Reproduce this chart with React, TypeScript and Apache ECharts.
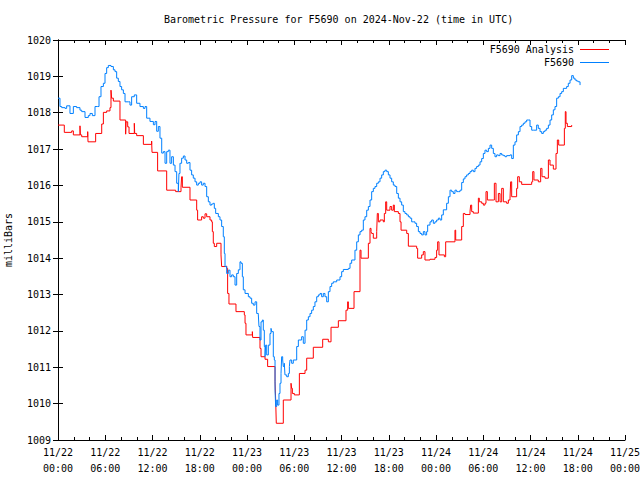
import React, { useEffect, useRef } from "react";
import * as echarts from "echarts";

const TITLE = "Barometric Pressure for F5690 on 2024-Nov-22 (time in UTC)";
const Y_NAME = "milliBars";
const xTickLabels = [
  "11/22\n00:00", "11/22\n06:00", "11/22\n12:00", "11/22\n18:00",
  "11/23\n00:00", "11/23\n06:00", "11/23\n12:00", "11/23\n18:00",
  "11/24\n00:00", "11/24\n06:00", "11/24\n12:00", "11/24\n18:00",
  "11/25\n00:00",
];
const seriesNames = ["F5690 Analysis", "F5690"];

// hours since 11/22 00:00 UTC
const analysisHours = [0.0, 0.80, 1.74, 1.95, 2.79, 2.84, 3.01, 3.77, 3.81, 4.78, 5.55, 5.76, 6.18, 6.60, 6.73, 6.81, 7.03, 7.87, 8.59, 8.64, 8.85, 9.02, 9.69, 9.74, 9.99, 10.84, 11.89, 11.94, 12.65, 13.80, 14.94, 15.62, 15.70, 15.79, 16.76, 17.61, 17.73, 18.24, 18.45, 18.67, 18.88, 19.30, 19.51, 19.60, 19.72, 19.85, 20.15, 20.70, 20.78, 21.21, 21.42, 21.54, 21.71, 22.60, 23.66, 23.75, 23.87, 24.68, 24.72, 25.65, 25.78, 26.29, 26.62, 27.56, 27.64, 27.72, 28.61, 29.59, 29.67, 29.76, 30.01, 30.65, 31.37, 31.58, 32.42, 33.61, 34.33, 34.67, 35.60, 36.57, 36.78, 36.87, 37.59, 38.35, 38.48, 39.41, 39.62, 39.75, 39.83, 40.04, 40.47, 40.55, 40.68, 40.89, 41.31, 41.44, 41.61, 41.74, 42.16, 42.37, 42.58, 42.71, 43.22, 43.43, 43.56, 44.28, 44.49, 45.54, 45.67, 46.18, 46.39, 46.60, 47.24, 47.87, 48.08, 48.21, 48.38, 49.06, 49.23, 50.41, 50.50, 51.26, 51.47, 51.68, 52.32, 52.40, 52.53, 52.74, 53.38, 53.50, 53.80, 54.01, 54.22, 54.35, 54.52, 55.28, 55.41, 55.62, 55.92, 56.13, 56.34, 56.55, 56.97, 57.19, 57.40, 57.48, 57.61, 58.24, 58.37, 58.58, 58.88, 60.15, 60.28, 60.44, 60.99, 61.29, 61.46, 61.84, 62.27, 62.48, 62.90, 63.24, 63.41, 63.58, 64.30, 64.42, 64.51, 64.68, 65.23];
const analysisValues = [1017.66, 1017.46, 1017.50, 1017.39, 1017.64, 1017.39, 1017.34, 1017.48, 1017.20, 1017.43, 1017.69, 1018.01, 1018.05, 1018.14, 1018.62, 1018.40, 1018.32, 1017.80, 1017.41, 1017.75, 1017.61, 1017.43, 1017.71, 1017.43, 1017.37, 1017.13, 1017.22, 1016.91, 1016.40, 1015.87, 1015.83, 1015.95, 1016.24, 1015.95, 1015.60, 1015.32, 1015.05, 1015.14, 1015.10, 1015.22, 1015.14, 1015.05, 1015.00, 1014.73, 1014.41, 1014.32, 1014.41, 1014.09, 1013.77, 1013.78, 1013.72, 1013.03, 1012.74, 1012.53, 1012.44, 1012.21, 1011.89, 1011.98, 1011.82, 1011.52, 1011.29, 1011.22, 1011.02, 1010.60, 1010.10, 1009.46, 1010.10, 1010.56, 1010.42, 1010.28, 1010.24, 1010.83, 1010.92, 1011.25, 1011.55, 1011.77, 1011.70, 1012.10, 1012.28, 1012.57, 1012.80, 1012.62, 1013.08, 1014.22, 1014.00, 1014.41, 1014.82, 1014.73, 1014.68, 1014.55, 1014.73, 1015.23, 1015.00, 1015.05, 1015.00, 1015.23, 1015.55, 1015.32, 1015.42, 1015.32, 1015.46, 1015.28, 1015.23, 1015.00, 1014.77, 1014.68, 1014.33, 1014.27, 1014.00, 1014.09, 1014.18, 1013.95, 1013.97, 1014.02, 1014.22, 1014.45, 1014.09, 1014.04, 1014.45, 1014.77, 1014.50, 1014.87, 1015.23, 1015.20, 1015.28, 1015.46, 1015.28, 1015.24, 1015.65, 1015.55, 1015.51, 1015.46, 1015.51, 1015.83, 1015.60, 1015.60, 1016.06, 1015.55, 1015.78, 1015.55, 1015.92, 1015.55, 1015.51, 1015.60, 1015.65, 1016.10, 1015.69, 1015.92, 1016.24, 1016.10, 1016.03, 1016.10, 1016.38, 1016.15, 1016.10, 1016.47, 1016.24, 1016.20, 1016.70, 1016.56, 1016.45, 1016.88, 1017.25, 1017.11, 1017.57, 1018.03, 1017.71, 1017.62, 1017.66];

const stationHours = [0.0, 0.25, 0.47, 0.89, 1.10, 1.52, 1.95, 2.37, 2.79, 3.01, 3.43, 3.85, 4.06, 4.36, 4.70, 5.04, 5.21, 5.46, 5.76, 5.97, 6.18, 6.39, 6.73, 7.03, 7.24, 7.45, 7.66, 7.87, 8.08, 8.30, 8.51, 8.93, 9.14, 9.35, 9.69, 9.99, 10.41, 10.84, 11.05, 11.26, 11.68, 12.11, 12.32, 12.53, 12.74, 12.95, 13.17, 13.38, 13.59, 13.80, 14.01, 14.22, 14.43, 14.65, 14.86, 15.07, 15.28, 15.36, 15.49, 15.70, 15.92, 16.13, 16.34, 16.55, 16.76, 16.97, 17.18, 17.40, 17.61, 17.82, 18.03, 18.24, 18.45, 18.67, 18.88, 19.09, 19.30, 19.51, 19.72, 19.85, 20.02, 20.36, 20.57, 20.78, 20.99, 21.12, 21.21, 21.42, 21.63, 21.84, 22.05, 22.26, 22.48, 22.69, 22.90, 23.11, 23.24, 23.41, 23.53, 23.75, 24.17, 24.38, 24.59, 24.80, 25.02, 25.23, 25.44, 25.52, 25.65, 25.78, 25.95, 26.07, 26.20, 26.29, 26.37, 26.50, 26.71, 26.92, 27.05, 27.13, 27.34, 27.47, 27.56, 27.64, 27.77, 27.89, 28.06, 28.19, 28.32, 28.40, 28.53, 28.61, 28.74, 28.82, 29.04, 29.25, 29.38, 29.46, 29.67, 29.88, 30.10, 30.31, 30.52, 30.73, 30.94, 31.15, 31.37, 31.58, 31.79, 32.00, 32.21, 32.42, 32.63, 32.85, 33.06, 33.27, 33.48, 33.69, 33.90, 34.12, 34.33, 34.54, 34.75, 34.96, 35.17, 35.39, 35.81, 36.02, 36.23, 36.87, 37.08, 37.29, 37.71, 37.93, 38.14, 38.35, 38.56, 38.77, 38.98, 39.20, 39.41, 39.62, 39.83, 40.04, 40.25, 40.47, 40.68, 40.89, 41.10, 41.31, 41.52, 41.74, 41.95, 42.16, 42.37, 42.58, 42.79, 43.01, 43.22, 43.43, 43.64, 43.85, 44.06, 44.28, 44.49, 44.70, 44.91, 45.12, 45.33, 45.54, 45.76, 45.97, 46.18, 46.39, 46.60, 46.81, 46.94, 47.24, 47.45, 47.66, 47.87, 48.08, 48.30, 48.51, 48.72, 48.93, 49.14, 49.35, 49.57, 49.78, 49.99, 50.20, 50.41, 50.62, 50.83, 51.05, 51.26, 51.47, 51.68, 51.89, 52.11, 52.32, 52.53, 52.74, 52.95, 53.16, 53.38, 53.59, 53.80, 54.01, 54.22, 54.43, 54.65, 54.86, 55.07, 55.28, 55.49, 55.70, 55.92, 56.13, 56.34, 56.55, 56.76, 56.97, 57.40, 57.61, 57.82, 58.03, 58.24, 58.46, 58.67, 58.88, 59.09, 59.30, 59.51, 59.73, 59.94, 60.15, 60.36, 60.57, 60.78, 60.99, 61.21, 61.42, 61.63, 61.84, 62.05, 62.27, 62.48, 62.69, 62.90, 63.11, 63.32, 63.54, 63.75, 63.96, 64.17, 64.38, 64.59, 64.80, 65.02, 65.23, 65.44, 65.65, 65.86, 66.07, 66.29];
const stationValues = [1018.40, 1018.17, 1018.14, 1018.12, 1018.19, 1017.98, 1018.17, 1018.14, 1018.07, 1018.03, 1017.87, 1017.92, 1017.98, 1017.92, 1018.17, 1018.17, 1018.44, 1018.72, 1018.81, 1019.08, 1019.24, 1019.30, 1019.27, 1019.18, 1019.13, 1018.95, 1018.86, 1018.72, 1018.63, 1018.53, 1018.30, 1018.30, 1018.21, 1018.44, 1018.49, 1018.26, 1018.17, 1018.12, 1018.17, 1017.85, 1017.76, 1017.67, 1017.76, 1017.49, 1017.62, 1017.30, 1016.89, 1016.93, 1016.61, 1016.93, 1016.97, 1016.61, 1016.79, 1016.56, 1016.38, 1016.06, 1015.83, 1016.33, 1016.61, 1016.75, 1016.81, 1016.70, 1016.61, 1016.63, 1016.42, 1016.29, 1016.20, 1016.10, 1016.01, 1016.06, 1016.10, 1016.01, 1016.06, 1015.97, 1015.69, 1015.55, 1015.46, 1015.49, 1015.51, 1015.37, 1015.23, 1015.14, 1015.05, 1014.87, 1014.59, 1014.13, 1013.77, 1013.58, 1013.67, 1013.49, 1013.54, 1013.49, 1013.26, 1013.58, 1013.68, 1013.90, 1013.86, 1013.49, 1013.13, 1013.03, 1012.94, 1012.90, 1012.76, 1012.71, 1012.80, 1012.48, 1012.44, 1012.12, 1011.75, 1012.25, 1012.30, 1012.02, 1011.57, 1011.29, 1011.61, 1011.34, 1011.61, 1011.93, 1012.07, 1011.98, 1011.29, 1011.20, 1010.37, 1009.92, 1010.10, 1009.96, 1010.28, 1010.56, 1010.83, 1011.29, 1011.20, 1011.02, 1011.11, 1010.79, 1010.74, 1010.83, 1011.02, 1011.20, 1011.11, 1011.20, 1011.20, 1011.57, 1011.75, 1011.75, 1011.84, 1011.66, 1012.02, 1012.30, 1012.39, 1012.48, 1012.57, 1012.67, 1012.80, 1012.94, 1012.99, 1013.03, 1012.94, 1013.03, 1012.94, 1012.80, 1013.08, 1013.22, 1013.31, 1013.35, 1013.35, 1013.40, 1013.49, 1013.63, 1013.69, 1013.72, 1013.86, 1013.95, 1014.22, 1014.45, 1014.64, 1014.73, 1014.77, 1015.05, 1015.14, 1015.32, 1015.42, 1015.60, 1015.83, 1015.92, 1015.97, 1016.06, 1016.10, 1016.20, 1016.29, 1016.38, 1016.42, 1016.38, 1016.29, 1016.20, 1016.10, 1016.01, 1015.97, 1015.78, 1015.65, 1015.55, 1015.46, 1015.28, 1015.23, 1015.19, 1015.14, 1015.10, 1015.00, 1015.00, 1014.96, 1014.87, 1014.73, 1014.68, 1014.64, 1014.73, 1014.64, 1014.73, 1014.91, 1015.00, 1015.05, 1014.96, 1015.00, 1015.05, 1015.10, 1015.05, 1015.19, 1015.33, 1015.33, 1015.51, 1015.69, 1015.87, 1015.83, 1015.78, 1015.87, 1015.83, 1015.83, 1015.87, 1016.08, 1016.18, 1016.24, 1016.29, 1016.33, 1016.38, 1016.42, 1016.38, 1016.47, 1016.52, 1016.56, 1016.65, 1016.74, 1016.88, 1016.97, 1016.93, 1017.02, 1017.11, 1017.02, 1016.88, 1016.79, 1016.84, 1016.82, 1016.88, 1016.84, 1016.82, 1016.79, 1016.82, 1016.84, 1016.74, 1017.11, 1017.20, 1017.39, 1017.48, 1017.62, 1017.66, 1017.71, 1017.75, 1017.80, 1017.80, 1017.62, 1017.52, 1017.52, 1017.52, 1017.66, 1017.57, 1017.48, 1017.43, 1017.48, 1017.52, 1017.57, 1017.66, 1017.80, 1017.94, 1018.08, 1018.17, 1018.40, 1018.44, 1018.53, 1018.58, 1018.67, 1018.67, 1018.72, 1018.81, 1018.90, 1019.02, 1018.95, 1018.90, 1018.87, 1018.85, 1018.76];

const FONT = "DejaVu Sans Mono";

export default function App() {
  const ref = useRef<HTMLDivElement>(null);
  useEffect(() => {
    if (!ref.current) return;
    const chart = echarts.init(ref.current, null, { renderer: "svg" });
    const baseX = {
      type: "value",
      min: 0,
      max: 72,
      interval: 6,
      axisLine: { show: true, lineStyle: { color: "#000", width: 1 } },
      axisTick: { show: true, inside: true, length: 5, lineStyle: { color: "#000" } },
      minorTick: { show: true, splitNumber: 3, length: 3, lineStyle: { color: "#000" } },
      splitLine: { show: false },
    };
    const baseY = {
      type: "value",
      min: 1009,
      max: 1020,
      interval: 1,
      axisLine: { show: true, lineStyle: { color: "#000", width: 1 } },
      axisTick: { show: true, inside: true, length: 5, lineStyle: { color: "#000" } },
      splitLine: { show: false },
    };
    chart.setOption({
      animation: false,
      backgroundColor: "#fff",
      textStyle: { fontFamily: FONT, color: "#000" },
      title: {
        text: TITLE,
        left: 164,
        top: 14,
        padding: 0,
        textStyle: { fontFamily: FONT, fontSize: 10, fontWeight: "normal", color: "#000" },
      },
      legend: {
        orient: "vertical",
        right: 31,
        top: 43,
        align: "right",
        padding: 0,
        itemGap: 0,
        itemWidth: 29,
        itemHeight: 1,
        icon: "rect",
        textStyle: { fontFamily: FONT, fontSize: 10, color: "#000", lineHeight: 13, padding: [0, 1, 0, 0] },
        data: seriesNames,
      },
      grid: { left: 58, right: 15, top: 40, bottom: 40, containLabel: false, outerBoundsMode: "none" },
      xAxis: [
        {
          ...baseX,
          position: "bottom",
          axisLabel: {
            show: true,
            margin: 4,
            fontFamily: FONT,
            fontSize: 10,
            lineHeight: 16,
            color: "#000",
            showMinLabel: true,
            showMaxLabel: true,
            hideOverlap: false,
            formatter: (v: number) => xTickLabels[Math.round(v / 6)] ?? "",
          },
        },
        { ...baseX, position: "top", axisLabel: { show: false } },
      ],
      yAxis: [
        {
          ...baseY,
          position: "left",
          name: Y_NAME,
          nameLocation: "middle",
          nameGap: 45,
          nameRotate: 90,
          nameTextStyle: { fontFamily: FONT, fontSize: 10, color: "#000" },
          axisLabel: {
            show: true,
            margin: 7,
            fontFamily: FONT,
            fontSize: 10,
            color: "#000",
            formatter: (v: number) => String(v),
          },
        },
        { ...baseY, position: "right", axisLabel: { show: false } },
      ],
      series: [
        {
          name: seriesNames[0],
          type: "line",
          step: "end",
          xAxisIndex: 0,
          yAxisIndex: 0,
          showSymbol: false,
          symbol: "none",
          lineStyle: { color: "#ff0000", width: 1 },
          itemStyle: { color: "#ff0000" },
          data: analysisHours.map((h, i) => [h, analysisValues[i]]),
        },
        {
          name: seriesNames[1],
          type: "line",
          step: "end",
          xAxisIndex: 0,
          yAxisIndex: 0,
          showSymbol: false,
          symbol: "none",
          lineStyle: { color: "#0080ff", width: 1 },
          itemStyle: { color: "#0080ff" },
          data: stationHours.map((h, i) => [h, stationValues[i]]),
        },
      ],
    });
    return () => chart.dispose();
  }, []);
  return (
    <div
      ref={ref}
      style={{ position: "fixed", left: 0, top: 0, width: 640, height: 480, background: "#fff" }}
    />
  );
}
